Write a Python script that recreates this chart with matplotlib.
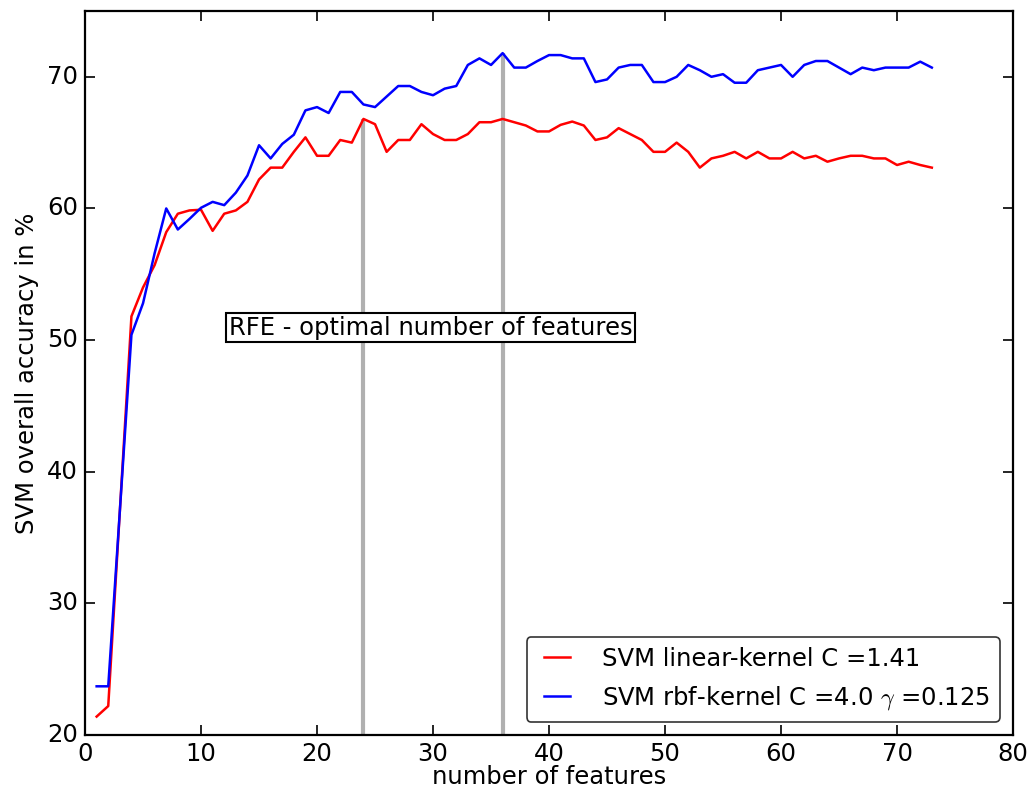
"""
RFE: SVM overall accuracy vs number of features (linear vs rbf kernel).
"""
import matplotlib
matplotlib.use('Agg')
import matplotlib.pyplot as plt

plt.style.use('classic')
plt.rcParams['mathtext.fontset'] = 'cm'
plt.rcParams['font.family'] = 'DejaVu Sans'

# --- Data ---
n_features = list(range(1, 74))

acc_linear = [21.4, 22.2, 37.0, 51.8, 54.0, 55.7, 58.2, 59.6, 59.85, 59.9,
              58.3, 59.6, 59.85, 60.5, 62.2, 63.1, 63.1, 64.3, 65.4, 64.0,
              64.0, 65.2, 65.0, 66.8, 66.4, 64.3, 65.2, 65.2, 66.4, 65.65,
              65.2, 65.2, 65.65, 66.55, 66.55, 66.8, 66.55, 66.3, 65.85, 65.85,
              66.35, 66.6, 66.3, 65.2, 65.4, 66.1, 65.65, 65.2, 64.3, 64.3,
              65.0, 64.3, 63.1, 63.8, 64.0, 64.3, 63.8, 64.3, 63.8, 63.8,
              64.3, 63.8, 64.0, 63.55, 63.8, 64.0, 64.0, 63.8, 63.8, 63.3,
              63.55, 63.3, 63.1]

acc_rbf = [23.7, 23.7, 37.0, 50.4, 52.8, 56.6, 60.0, 58.4, 59.2, 60.05,
           60.5, 60.25, 61.2, 62.5, 64.8, 63.8, 64.9, 65.6, 67.45, 67.7,
           67.25, 68.85, 68.85, 67.9, 67.7, 68.5, 69.3, 69.3, 68.85, 68.6,
           69.1, 69.3, 70.9, 71.4, 70.9, 71.8, 70.7, 70.7, 71.2, 71.65,
           71.65, 71.4, 71.4, 69.6, 69.8, 70.7, 70.9, 70.9, 69.6, 69.6,
           70.0, 70.9, 70.5, 70.0, 70.2, 69.55, 69.55, 70.5, 70.7, 70.9,
           70.0, 70.9, 71.2, 71.2, 70.7, 70.2, 70.7, 70.5, 70.7, 70.7,
           70.7, 71.15, 70.7]

# optimal numbers of features (RFE)
opt_linear = 24
opt_rbf = 36

fs = 17.5

fig = plt.figure(figsize=(10.27, 7.9), dpi=100, facecolor='white')
ax = fig.add_axes([0.0828, 0.0696, 0.9036, 0.9165])
ax.set_facecolor('white')

# vertical markers up to the curve value
ax.vlines(opt_linear, 20, acc_linear[n_features.index(opt_linear)],
          color='#b0b0b0', linewidth=3, zorder=1)
ax.vlines(opt_rbf, 20, acc_rbf[n_features.index(opt_rbf)],
          color='#b0b0b0', linewidth=3, zorder=1)

ax.plot(n_features, acc_linear, color='red', linewidth=1.8,
        label='SVM linear-kernel C =1.41')
ax.plot(n_features, acc_rbf, color='blue', linewidth=1.8,
        label=r'SVM rbf-kernel C =4.0 $\gamma$ =0.125')

ax.text(29.8, 50.95, 'RFE - optimal number of features', fontsize=fs,
        ha='center', va='center',
        bbox=dict(boxstyle='square,pad=0.12', facecolor='white',
                  edgecolor='black', linewidth=1.5))

ax.set_xlim(0, 80)
ax.set_ylim(20, 75)
ax.set_xticks(range(0, 81, 10))
ax.set_yticks(range(20, 71, 10))
ax.tick_params(labelsize=fs, direction='in', length=7, width=1.2,
               top=True, right=True, pad=5)
for s in ax.spines.values():
    s.set_linewidth(1.6)

ax.set_xlabel('number of features', fontsize=fs, labelpad=-1)
ax.set_ylabel('SVM overall accuracy in %', fontsize=fs, labelpad=6)

leg = ax.legend(loc='lower right', fontsize=fs, fancybox=True,
                handlelength=1.7, handletextpad=1.0,
                borderaxespad=0.55, labelspacing=0.55)
leg.get_frame().set_linewidth(1.2)
leg.get_frame().set_edgecolor('#333333')

plt.savefig('out.png', dpi=100, facecolor='white')
